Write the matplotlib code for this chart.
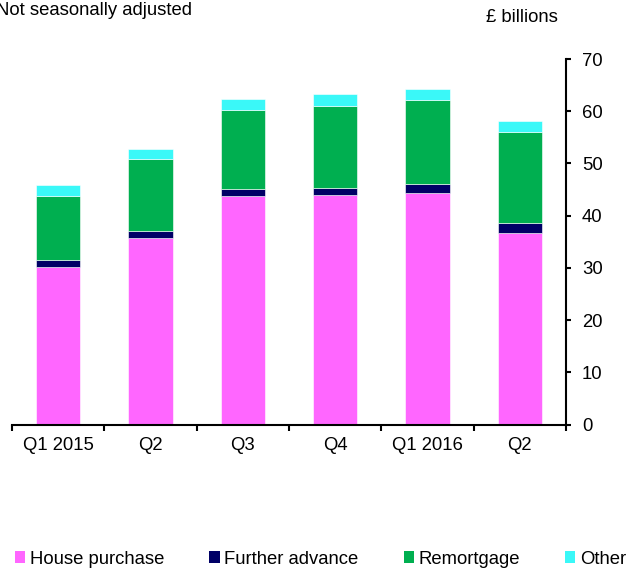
import numpy as np
import matplotlib.pyplot as plt
from matplotlib.patches import Patch

plt.rcParams['font.family'] = ['Liberation Sans', 'DejaVu Sans']

# datos (miles de millones de libras)
quarters  = ['Q1 2015', 'Q2', 'Q3', 'Q4', 'Q1 2016', 'Q2']
house     = [30.2, 35.7, 43.7, 43.9, 44.4, 36.7]
further   = [1.3, 1.3, 1.4, 1.4, 1.6, 1.9]
remort    = [12.2, 13.8, 15.1, 15.7, 16.2, 17.4]
other     = [2.1, 1.9, 2.1, 2.3, 2.0, 2.2]

labels = ['House purchase', 'Further advance', 'Remortgage', 'Other']
colors = ['#FF66FF', '#000066', '#00AF50', '#3AF8F8']

fs = 13.3

fig = plt.figure(figsize=(6.28, 5.69), dpi=100)
ax = fig.add_axes([12/628, 1-424.5/569, (566-12)/628, (424.5-59)/569])

x = np.arange(len(quarters))
bottom = np.zeros(len(quarters))
for vals, c in zip([house, further, remort, other], colors):
    ax.bar(x, vals, width=0.48, bottom=bottom, color=c, edgecolor='white', linewidth=0.4)
    bottom += np.array(vals)

ax.set_xlim(-0.5, len(quarters)-0.5)
ax.set_ylim(0, 70)

# eje y a la derecha
ax.spines['left'].set_visible(False)
ax.spines['top'].set_visible(False)
ax.spines['right'].set_linewidth(1.5)
ax.spines['bottom'].set_linewidth(1.5)
ax.yaxis.tick_right()
ax.set_yticks(np.arange(0, 71, 10))
ax.tick_params(axis='y', direction='out', length=3.6, width=1.5, labelsize=fs, pad=8)

# ticks del eje x en los bordes de cada categoria
ax.set_xticks(np.arange(-0.5, len(quarters), 1.0))
ax.set_xticklabels([])
ax.set_xticks(x, minor=True)
ax.set_xticklabels(quarters, minor=True)
ax.tick_params(axis='x', which='major', direction='out', length=4.3, width=1.5)
ax.tick_params(axis='x', which='minor', length=0, labelsize=fs, pad=9)

fig.text(-0.006, 0.997, 'Not seasonally adjusted', ha='left', va='top', fontsize=fs)
fig.text(558/628, 1-18/569, '£ billions', ha='right', va='center', fontsize=fs)

handles = [Patch(facecolor=c, edgecolor='none') for c in colors]
fig.legend(handles, labels, loc='center left', bbox_to_anchor=(0.024, 1-559/569), ncol=4,
           frameon=False, fontsize=fs, handlelength=0.55, handleheight=0.55,
           handletextpad=0.25, columnspacing=2.45, borderaxespad=0, borderpad=0)

plt.savefig('out.png', dpi=100)
